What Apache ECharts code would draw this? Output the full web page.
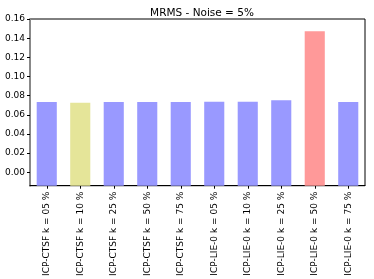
<!DOCTYPE html>
<html><head><meta charset="utf-8">
<script src="https://cdn.jsdelivr.net/npm/echarts@6/dist/echarts.min.js"></script>
<style>html,body{margin:0;padding:0;background:#fff}#c{width:374px;height:279px}</style>
</head><body><div id="c"></div>
<script>
const categories = ["ICP-CTSF k = 05 %","ICP-CTSF k = 10 %","ICP-CTSF k = 25 %","ICP-CTSF k = 50 %","ICP-CTSF k = 75 %","ICP-LIE-0 k = 05 %","ICP-LIE-0 k = 10 %","ICP-LIE-0 k = 25 %","ICP-LIE-0 k = 50 %","ICP-LIE-0 k = 75 %"];
const values = [0.0733, 0.0726, 0.0733, 0.0733, 0.0733, 0.0736, 0.0736, 0.0753, 0.1472, 0.0733];
const barColors = ["#9999ff","#e5e599","#9999ff","#9999ff","#9999ff","#9999ff","#9999ff","#9999ff","#ff9999","#9999ff"];
const yTicks = [0,0.02,0.04,0.06,0.08,0.10,0.12,0.14,0.16];
const yMin = -0.014, yMax = 0.16;
const titleText = "MRMS - Noise = 5%";

const chart = echarts.init(document.getElementById('c'), null, {renderer:'canvas'});
const font = "DejaVu Sans";
chart.setOption({
  animation:false,
  title:{text:titleText,left:197,top:3,textAlign:'center',textStyle:{fontFamily:font,fontSize:10.5,fontWeight:'normal',color:'#000'}},
  grid:{left:30,right:9,top:19,bottom:90,show:true,borderColor:'#000',borderWidth:1,backgroundColor:'transparent'},
  xAxis:{type:'category',data:categories,
    axisLine:{show:true,onZero:false,lineStyle:{color:'#000',width:1}},
    axisTick:{show:true,alignWithLabel:true,length:3,lineStyle:{color:'#000'}},
    axisLabel:{rotate:90,interval:0,margin:6,fontFamily:font,fontSize:9,color:'#000'}},
  yAxis:{type:'value',min:yMin,max:yMax,startValue:yMin,
    splitLine:{show:false},
    axisLine:{show:true,lineStyle:{color:'#888',width:2}},
    axisTick:{show:true,length:3,lineStyle:{color:'#000'},customValues:yTicks},
    axisLabel:{fontFamily:font,fontSize:9,color:'#000',margin:5,customValues:yTicks,formatter:v=>v.toFixed(2)}},
  series:[
    {type:'bar',barWidth:'60%',
      data:values.map((v,i)=>({value:v,itemStyle:{color:barColors[i]}}))}
  ]
});
</script></body></html>
